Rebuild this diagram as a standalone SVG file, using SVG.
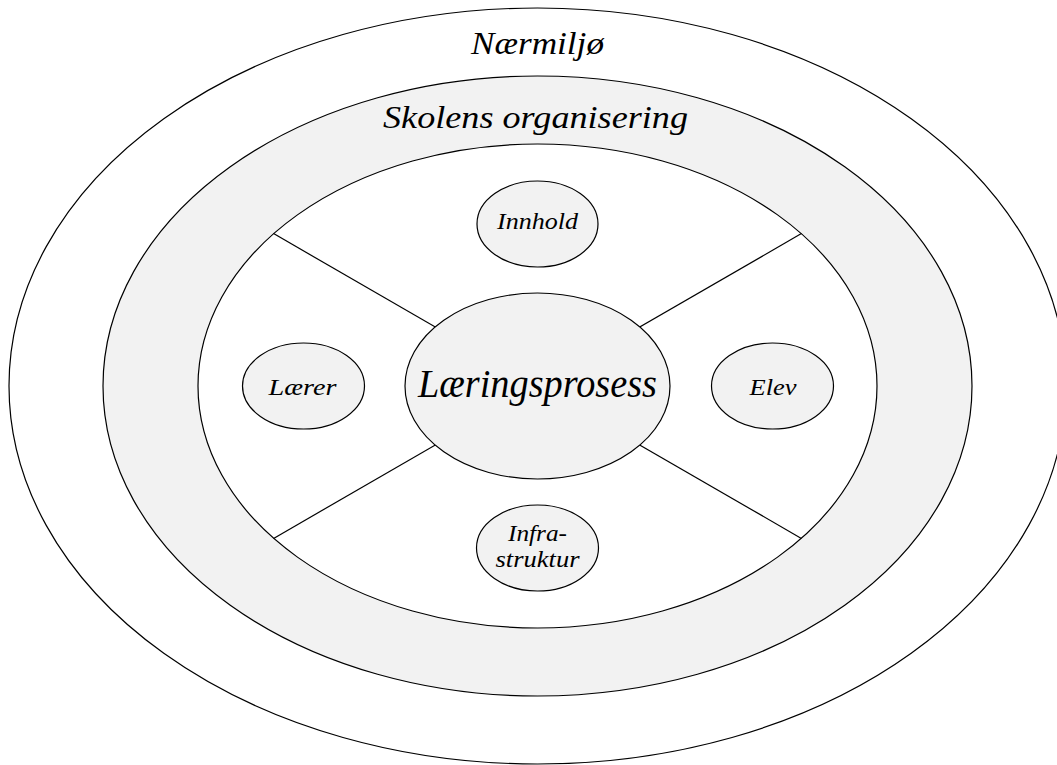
<svg xmlns="http://www.w3.org/2000/svg" width="1057" height="765" viewBox="0 0 1057 765">
  <style>
    .ring { stroke: #000; stroke-width: 1.2; }
    .white { fill: #fff; }
    .grey { fill: #f2f2f2; }
    .node { fill: #f2f2f2; stroke: #000; stroke-width: 1.2; }
    .spoke { stroke: #000; stroke-width: 1.2; fill: none; }
    text { font-family: 'Liberation Serif', serif; font-style: italic; font-weight: normal; fill: #000; text-anchor: middle; }
  </style>
  <rect x="0" y="0" width="1057" height="765" fill="#fff"/>

  <!-- Layers around the learning process -->
  <g id="naermiljo">
    <ellipse class="ring white" cx="537.5" cy="386" rx="528.5" ry="378"/>
    <text x="537.5" y="54" font-size="31" textLength="133" lengthAdjust="spacingAndGlyphs">Nærmiljø</text>
  </g>
  <g id="skolens-organisering">
    <ellipse class="ring grey" cx="537.5" cy="386" rx="434.5" ry="310"/>
    <text x="535.5" y="128" font-size="31" textLength="305" lengthAdjust="spacingAndGlyphs">Skolens organisering</text>
  </g>
  <g id="klasserom">
    <ellipse class="ring white" cx="537.5" cy="386" rx="339.5" ry="242"/>
  </g>

  <!-- Spokes dividing the classroom -->
  <g id="connectors">
    <line class="spoke" x1="537.5" y1="386" x2="273.6" y2="233.6"/>
    <line class="spoke" x1="537.5" y1="386" x2="801.4" y2="233.6"/>
    <line class="spoke" x1="537.5" y1="386" x2="273.6" y2="538.4"/>
    <line class="spoke" x1="537.5" y1="386" x2="801.4" y2="538.4"/>
  </g>

  <g id="laeringsprosess">
    <ellipse class="node" cx="537.5" cy="386" rx="132.5" ry="93"/>
    <text x="537.5" y="397" font-size="40" textLength="239" lengthAdjust="spacingAndGlyphs">Læringsprosess</text>
  </g>
  <g id="innhold">
    <ellipse class="node" cx="537.5" cy="224" rx="60.5" ry="43"/>
    <text x="537.5" y="228.5" font-size="24" textLength="81" lengthAdjust="spacingAndGlyphs">Innhold</text>
  </g>
  <g id="infrastruktur">
    <ellipse class="node" cx="537.5" cy="548" rx="61" ry="43"/>
    <text x="537.5" y="540.5" font-size="24" textLength="59" lengthAdjust="spacingAndGlyphs">Infra-</text>
    <text x="537.5" y="566.5" font-size="24" textLength="84" lengthAdjust="spacingAndGlyphs">struktur</text>
  </g>
  <g id="laerer">
    <ellipse class="node" cx="303.5" cy="386" rx="61" ry="43"/>
    <text x="302.5" y="395" font-size="24" textLength="68" lengthAdjust="spacingAndGlyphs">Lærer</text>
  </g>
  <g id="elev">
    <ellipse class="node" cx="772.5" cy="386" rx="61" ry="43"/>
    <text x="773" y="395" font-size="24" textLength="47" lengthAdjust="spacingAndGlyphs">Elev</text>
  </g>
</svg>
